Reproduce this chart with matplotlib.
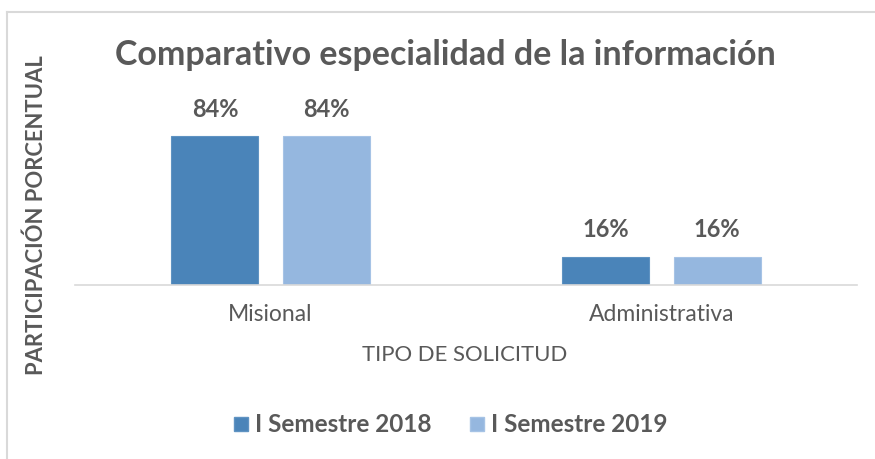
import matplotlib
matplotlib.use("Agg")
import matplotlib.pyplot as plt
import numpy as np
from matplotlib.patches import Patch
from matplotlib.lines import Line2D

categories = ["Misional", "Administrativa"]
series_names = ["I Semestre 2018", "I Semestre 2019"]
values_2018 = [84, 16]
values_2019 = [84, 16]
labels_2018 = ["84%", "16%"]
labels_2019 = ["84%", "16%"]

colors = ["#4a84b9", "#95b7df"]
edge_colors = ["#5f93c2", "#a6c3e5"]
text_color = "#595959"
fam = ["Lato", "DejaVu Sans"]

fig = plt.figure(figsize=(8.75, 4.59), dpi=100)
ax = fig.add_axes([75/875, (459-285)/459, (857-75)/875, 177.4/459])

x = np.arange(len(categories))
w = 0.2225
off = 0.142
b1 = ax.bar(x - off, values_2018, w, color=colors[0], edgecolor=edge_colors[0], linewidth=0.8)
b2 = ax.bar(x + off, values_2019, w, color=colors[1], edgecolor=edge_colors[1], linewidth=0.8)

for bars, labs in ((b1, labels_2018), (b2, labels_2019)):
    for r, lab in zip(bars, labs):
        ax.annotate(lab, (r.get_x() + r.get_width()/2, r.get_height()),
                    xytext=(0, 11), textcoords="offset points", ha="center", va="bottom",
                    fontsize=17, fontweight="bold", color=text_color, family=fam)

ax.set_xlim(-0.5, 1.5)
ax.set_ylim(0, 100)
ax.set_yticks([])
ax.set_xticks(x)
ax.set_xticklabels(categories, fontsize=16.5, color=text_color, family=fam)
ax.tick_params(axis="x", length=0, pad=14)
for s in ["top", "right", "left"]:
    ax.spines[s].set_visible(False)
ax.spines["bottom"].set_color("#d9d9d9")
ax.spines["bottom"].set_linewidth(1.2)

fig.text(445/875, 1 - 55/459, "Comparativo especialidad de la información", ha="center", va="center",
         fontsize=24.5, fontweight="bold", color=text_color, family=fam)
fig.text(36/875, 1 - 215/459, "PARTICIPACIÓN PORCENTUAL", ha="center", va="center", rotation=90,
         fontsize=15.8, fontweight="bold", color=text_color, family=fam)
fig.text(465/875, 1 - 355/459, "TIPO DE SOLICITUD", ha="center", va="center",
         fontsize=15.9, color=text_color, family=fam)

handles = [Patch(facecolor=colors[0], edgecolor=edge_colors[0]),
           Patch(facecolor=colors[1], edgecolor=edge_colors[1])]
leg = fig.legend(handles, series_names, loc="center", bbox_to_anchor=(451/875, 1 - 425/459),
                 ncol=2, frameon=False, handlelength=0.55, handleheight=0.55, handletextpad=0.3,
                 columnspacing=1.6, prop={"family": fam, "size": 17.5, "weight": "bold"})
for t in leg.get_texts():
    t.set_color(text_color)

# outer frame (partial, as in reference)
fig.add_artist(Line2D([7/875, 7/875], [0, 1 - 12/459], transform=fig.transFigure, color="#d9d9d9", linewidth=1.5))
fig.add_artist(Line2D([7/875, 1], [1 - 12/459, 1 - 12/459], transform=fig.transFigure, color="#d9d9d9", linewidth=1.5))

fig.savefig("out.png", dpi=100, facecolor="white")
